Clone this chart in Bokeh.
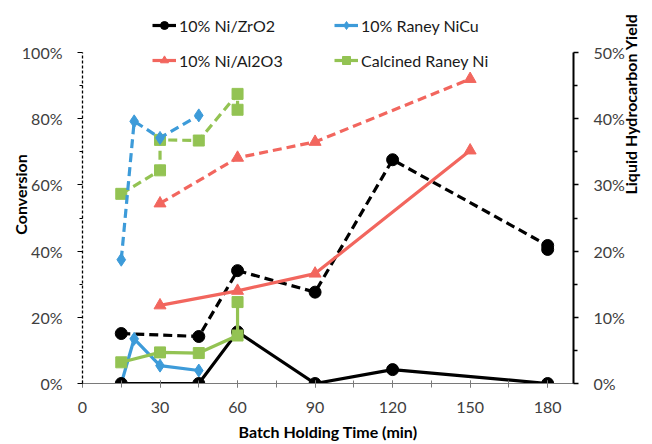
import math

from bokeh.plotting import figure
from bokeh.models import (Range1d, LinearAxis, FixedTicker, SingleIntervalTicker,
                          NumeralTickFormatter, Legend, LegendItem)
from bokeh.embed import file_html
from bokeh.resources import INLINE

# ---- data -------------------------------------------------------------
# 10% Ni/ZrO2
zro2_conv_time = [15, 45, 60, 90, 120, 180, 180]
zro2_conversion = [0.151, 0.142, 0.341, 0.276, 0.676, 0.417, 0.405]
zro2_yield_time = [15, 45, 60, 90, 120, 180]
zro2_yield = [0.0, 0.0, 0.078, 0.0, 0.021, 0.0]

# 10% Raney NiCu
nicu_time = [15, 20, 30, 45]
nicu_conversion = [0.374, 0.792, 0.742, 0.81]
nicu_yield = [0.0, 0.0675, 0.027, 0.0196]

# 10% Ni/Al2O3
al2o3_time = [30, 60, 90, 150]
al2o3_conversion = [0.544, 0.682, 0.73, 0.92]
al2o3_yield = [0.118, 0.14, 0.166, 0.352]

# Calcined Raney Ni
raney_conv_time = [15, 30, 30, 45, 60, 60]
raney_conversion = [0.573, 0.644, 0.736, 0.734, 0.875, 0.827]
raney_yield_time = [15, 30, 45, 60, 60]
raney_yield = [0.032, 0.047, 0.046, 0.0725, 0.123]

names = ["10% Ni/ZrO2", "10% Raney NiCu", "10% Ni/Al2O3", "Calcined Raney Ni"]

# axis ticks
conversion_ticks = [0.0, 0.2, 0.4, 0.6, 0.8, 1.0]
conversion_minor = [0.1, 0.3, 0.5, 0.7, 0.9]
yield_ticks = [0.0, 0.1, 0.2, 0.3, 0.4, 0.5]
yield_minor = [0.05, 0.15, 0.25, 0.35, 0.45]

BLACK = "#000000"
BLUE = "#3d9bd9"
RED = "#f2665e"
GREEN = "#93c353"
FONT = "Lato"

# ---- figure -----------------------------------------------------------
# The frame reaches up to the top of the page so the legend has room;
# the axis lines stop at 100% / 50% through their bounds.
TOP_PAD = 5
FRAME_H = 444 - TOP_PAD - 61
conv_top = FRAME_H / 331.0

p = figure(width=652, height=444, output_backend="svg", toolbar_location=None,
           x_range=Range1d(0, 190), y_range=Range1d(0, conv_top),
           min_border_left=82, min_border_right=77,
           min_border_top=TOP_PAD, min_border_bottom=61)
p.extra_y_ranges = {"yield": Range1d(0, conv_top / 2)}
p.grid.visible = False
p.outline_line_color = None
p.background_fill_color = "white"

xa = p.xaxis[0]
xa.ticker = SingleIntervalTicker(interval=30, num_minor_ticks=2)
xa.axis_line_color = "#7a7a7a"
xa.major_tick_line_color = "#7a7a7a"
xa.minor_tick_line_color = "#7a7a7a"
xa.major_tick_in = 3
xa.major_tick_out = 4
xa.minor_tick_in = 3
xa.minor_tick_out = 4
xa.major_label_standoff = 14
xa.axis_label = "Batch Holding Time (min)"
xa.axis_label_standoff = 6

ya = p.yaxis[0]
ya.ticker = FixedTicker(ticks=conversion_ticks, minor_ticks=conversion_minor)
ya.bounds = (0, 1)
ya.formatter = NumeralTickFormatter(format="0%")
ya.axis_line_color = BLACK
ya.axis_line_width = 1.3
ya.axis_line_dash = "3 2"
ya.major_tick_in = 0
ya.major_tick_out = 5
ya.minor_tick_in = 0
ya.minor_tick_out = 3
ya.major_label_standoff = 15
ya.axis_label = "Conversion"
ya.axis_label_standoff = -11

ry = LinearAxis(y_range_name="yield",
                ticker=FixedTicker(ticks=yield_ticks, minor_ticks=yield_minor),
                formatter=NumeralTickFormatter(format="0%"))
ry.bounds = (0, 0.5)
ry.axis_line_color = BLACK
ry.axis_line_width = 2
ry.major_tick_line_width = 1.5
ry.minor_tick_line_width = 1.5
ry.major_tick_in = 0
ry.major_tick_out = 5
ry.minor_tick_in = 0
ry.minor_tick_out = 4
ry.major_label_standoff = 15
ry.axis_label = "Liquid Hydrocarbon Yield"
ry.axis_label_standoff = 3
try:
    # read the right-hand title from bottom to top
    ry.axis_label_orientation = math.pi / 2
except Exception:
    pass
p.add_layout(ry, "right")

for ax in (xa, ya, ry):
    ax.major_label_text_font = FONT
    ax.major_label_text_font_size = "16px"
    ax.major_label_text_color = "#404040"
    ax.axis_label_text_font = FONT
    ax.axis_label_text_font_size = "16px"
    ax.axis_label_text_font_style = "bold"
    ax.axis_label_text_color = "#000000"

# ---- series -----------------------------------------------------------
DASH = "9 5"
LW = 3.2
MS = 12


def series(x, y, color, marker, dashed, rng="default", size=MS):
    kw = dict(y_range_name=rng)
    ln = p.line(x, y, line_color=color, line_width=LW,
                line_dash=DASH if dashed else "solid", **kw)
    sc = p.scatter(x, y, marker=marker, size=size, fill_color=color,
                   line_color=color, **kw)
    return [ln, sc]


# conversion (dashed, left axis)
series(raney_conv_time, raney_conversion, GREEN, "square", True, size=11)
series(nicu_time, nicu_conversion, BLUE, "diamond", True, size=13)
series(al2o3_time, al2o3_conversion, RED, "triangle", True, size=12)
series(zro2_conv_time, zro2_conversion, BLACK, "circle", True)

# liquid hydrocarbon yield (solid, right axis)
r_al = series(al2o3_time, al2o3_yield, RED, "triangle", False, "yield", size=12)
r_nicu = series(nicu_time, nicu_yield, BLUE, "diamond", False, "yield", size=13)
r_zr = series(zro2_yield_time, zro2_yield, BLACK, "circle", False, "yield")
r_ra = series(raney_yield_time, raney_yield, GREEN, "square", False, "yield", size=11)

legend = Legend(items=[LegendItem(label=names[0], renderers=r_zr),
                       LegendItem(label=names[1], renderers=r_nicu),
                       LegendItem(label=names[2], renderers=r_al),
                       LegendItem(label=names[3], renderers=r_ra)],
                orientation="horizontal", ncols=2,
                location=(70, 313), spacing=15, padding=10,
                glyph_width=24, glyph_height=20, label_standoff=3,
                label_width=140, label_height=20,
                label_text_font=FONT, label_text_font_size="16px",
                label_text_color="#1a1a1a",
                border_line_color=None, background_fill_alpha=0)
p.add_layout(legend, "center")

open("out.html", "w").write(file_html(p, INLINE))
